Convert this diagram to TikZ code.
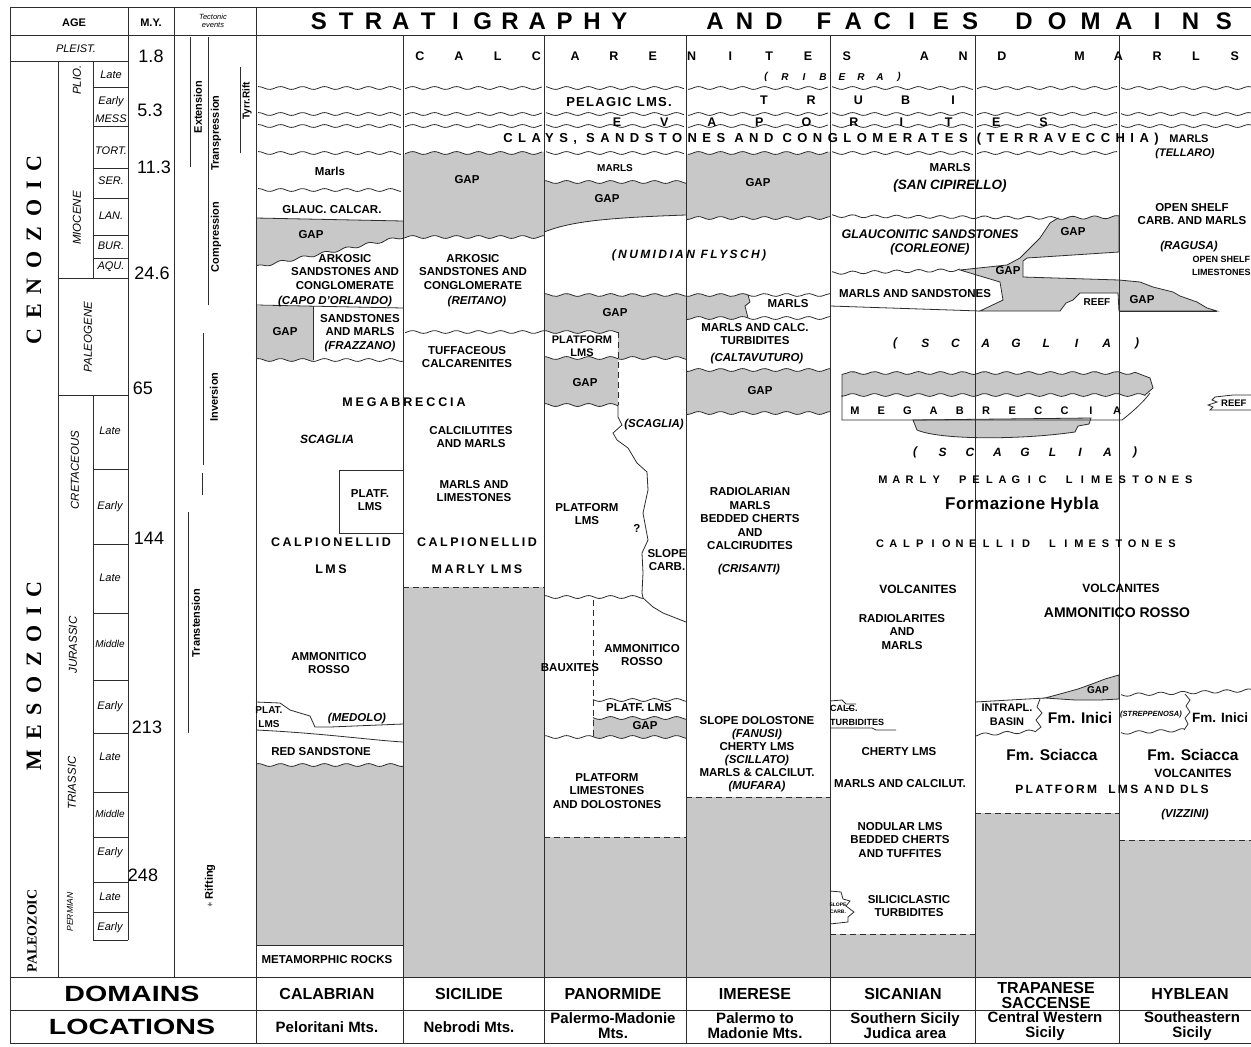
\documentclass[tikz,border=0pt]{standalone}
\usepackage{fontspec}
\usepackage{graphicx}
\setmainfont{Liberation Sans}
\newfontfamily\erafont{Liberation Serif}
\definecolor{gapc}{RGB}{200,200,200}
\definecolor{inkc}{RGB}{45,45,45}
\newcommand\spaced[5]{\foreach \spc [count=\spi from 0] in {#5} {\node[#4] at ({#1+\spi*#3},#2) {\spc};}}
\tikzset{
  wvs/.style n args={4}{insert path={plot[domain=#1:#3,samples=70,smooth,variable=\wx] (\wx,{#2+(#4-#2)*(\wx-#1)/(#3-#1)+1.4*sin(mod(\wx,22)*16.3636)})}},
  wv/.style n args={4}{insert path={-- plot[domain=#1:#3,samples=70,smooth,variable=\wx] (\wx,{#2+(#4-#2)*(\wx-#1)/(#3-#1)+1.4*sin(mod(\wx,22)*16.3636)})}},
  frame/.style={draw=inkc, line width=0.9pt},
  ln/.style={draw=inkc, line width=0.8pt},
  dln/.style={draw=inkc, line width=0.9pt, dash pattern=on 6pt off 4pt},
  lab/.style={font=\bfseries\fontsize{11.5}{13.5}\selectfont, align=center, inner sep=0pt},
  labi/.style={font=\bfseries\itshape\fontsize{11.5}{13.5}\selectfont, align=center, inner sep=0pt},
  labs/.style={font=\bfseries\fontsize{9.5}{11}\selectfont, align=center, inner sep=0pt},
  labm/.style={font=\bfseries\fontsize{11}{12}\selectfont, inner sep=0pt},
  bigl/.style={font=\bfseries\fontsize{12.5}{14}\selectfont, inner sep=0pt},
  bigi/.style={font=\bfseries\itshape\fontsize{12}{14}\selectfont, inner sep=0pt},
  smi/.style={font=\bfseries\itshape\fontsize{10}{12}\selectfont, inner sep=0pt},
  lsp/.style={font=\bfseries\fontsize{12.5}{14}\selectfont\addfontfeatures{LetterSpace=20}, inner sep=0pt},
  ttl/.style={font=\bfseries\fontsize{24}{26}\selectfont, inner sep=0pt},
  ep/.style={font=\itshape\fontsize{11}{12}\selectfont, inner sep=0pt, text height=7.5pt, text depth=2.5pt},
  per/.style={font=\itshape\fontsize{11.5}{12}\selectfont, inner sep=0pt, rotate=90},
  tec/.style={font=\bfseries\fontsize{11}{12}\selectfont, inner sep=0pt, rotate=90},
  myr/.style={font=\fontsize{18}{18}\selectfont, inner sep=0pt},
  dom/.style={font=\bfseries\fontsize{16}{15}\selectfont, align=center, inner sep=0pt},
  loc/.style={font=\bfseries\fontsize{15}{15}\selectfont, align=center, inner sep=0pt},
  fm/.style={font=\bfseries\fontsize{15.5}{16}\selectfont, inner sep=0pt},
}
\begin{document}
\begin{tikzpicture}[x=1pt,y=-1pt]
\useasboundingbox (0,0) rectangle (1251,1047);
\fill[white] (0,0) rectangle (1251,1047);

% ================= GRAY FILLS =================
% Calabrian
\fill[gapc] (256,218) -- (403,221) [wv={403}{237}{256}{267}] -- cycle;
\fill[gapc] (256,306) -- (313,306) -- (313,360) [wv={313}{360}{256}{360}] -- cycle;
\fill[gapc] [wvs={256}{765}{403}{765}] -- (403,945) -- (256,945) -- cycle;
% Sicilide
\fill[gapc] [wvs={403}{153}{544}{153}] [wv={544}{237}{403}{237}] -- cycle;
\fill[gapc] (403,587) rectangle (544,977);
% Panormide
\fill[gapc] [wvs={544}{182}{686}{182}] -- (686,215) .. controls (600,218) and (570,222) .. (544,232) -- cycle;
\fill[gapc] [wvs={544}{295}{686}{295}] [wv={686}{358}{618}{358}] -- (618,332) [wv={618}{332}{544}{332}] -- cycle;
\fill[gapc] [wvs={544}{358}{618}{358}] [wv={618}{405}{544}{405}] -- cycle;
\fill[gapc] [wvs={593}{718}{686}{718}] [wv={686}{737}{593}{737}] -- cycle;
\fill[gapc] (544,837) rectangle (686,977);
% Imerese
\fill[gapc] [wvs={686}{153}{830}{153}] [wv={830}{218}{686}{218}] -- cycle;
\fill[gapc] [wvs={686}{295}{748}{295}] -- (750,302) -- (745,306) -- (748,318) [wv={748}{318}{686}{318}] -- cycle;
\fill[gapc] [wvs={686}{370}{830}{370}] [wv={830}{413}{686}{413}] -- cycle;
\fill[gapc] (686,797) rectangle (830,977);
% Sicanian / Trapanese / Hyblean Tertiary gap
\path[fill=gapc, ln] (960,270) -- (1007,265) -- (1020,258) -- (1030,248) -- (1040,238) -- (1050,223) -- (1058,218) [wv={1058}{218}{1119}{217}] -- (1119,252) -- (1027,258) -- (1023,261) -- (1023,277) -- (1119,280) -- (1140,282) -- (1153,287) -- (1173,292) -- (1180,296) -- (1197,302) -- (1207,308) -- (1217,311) -- (1119,311) -- (1118,293) -- (1080,293) -- (1073,300) -- (1066,303) -- (1060,311) -- (980,311) -- (1003,300) -- (1000,282) -- cycle;
% megabreccia band
\path[fill=gapc, ln] (842,395) [wv={842}{373}{1135}{373}] -- (1150,378) -- (1153,388) -- (1145,395) [wv={1145}{395}{842}{395}] -- cycle;
\path[fill=gapc, ln] (913,420) -- (1091,418) -- (1089,424) -- (1078,426) -- (1075,432) .. controls (1020,440) and (940,440) .. (917,430) -- cycle;
% Trapanese small gap
\path[fill=gapc, ln] (1045,698) -- (1060,694) -- (1078,689) -- (1092,684) -- (1105,679) -- (1119,675) -- (1119,699) -- (1100,700) -- (1075,700) -- cycle;
\fill[gapc] (830,934) rectangle (975,977);
\fill[gapc] (975,813) rectangle (1119,977);
\fill[gapc] (1119,840) rectangle (1260,977);

% ================= STRATA LINES =================
\foreach \a/\b in {258/401, 405/542, 546/684, 688/828, 832/973, 977/1117, 1121/1260} {
  \draw[ln] [wvs={\a}{88}{\b}{88}];
  \draw[ln] [wvs={\a}{114}{\b}{114}];
  \draw[ln] [wvs={\a}{126}{\b}{126}];
}
\foreach \a/\b in {258/401, 405/542, 546/684, 688/828, 832/973, 977/1117} {
  \draw[ln] [wvs={\a}{153}{\b}{153}];
}
% Calabrian
\draw[ln] [wvs={258}{190}{401}{190}];
\draw[ln] (256,218) -- (403,221);
\draw[ln] [wvs={256}{267}{403}{237}];
\draw[ln] (256,305) -- (403,308);
\draw[ln] (313,306) -- (313,360);
\draw[ln] [wvs={256}{360}{403}{360}];
\draw[ln] (403,470) -- (339,470) -- (339,533) -- (403,533);
\draw[ln] (256,702) -- (280,703) -- (290,710) -- (310,716) -- (315,727) -- (330,727) -- (403,724);
\draw[ln] (256,730) .. controls (320,733) and (370,740) .. (403,742);
\draw[ln] [wvs={256}{765}{403}{765}];
\draw[ln] (256,945) -- (403,945);
% Sicilide
\draw[ln] [wvs={403}{237}{544}{237}];
\draw[ln] [wvs={405}{332}{618}{332}];
\draw[dln] (403,587) -- (544,587);
% Panormide
\draw[ln] [wvs={544}{182}{686}{182}];
\draw[ln] (544,232) .. controls (570,222) and (600,218) .. (686,215);
\draw[ln] [wvs={544}{295}{830}{295}];
\draw[ln] [wvs={544}{358}{686}{358}];
\draw[ln] [wvs={544}{405}{618}{405}];
\draw[dln] (618,332) -- (618,405);
\draw[ln] (618,405) -- (618,417) -- (622,425) -- (613,433) -- (617,440) -- (628,448) -- (637,463) -- (647,472) -- (648,490) -- (643,513) -- (648,540) -- (642,553) -- (643,573) -- (642,593) -- (643,598);
\draw[ln] [wvs={544}{597}{643}{597}];
\draw[ln] (643,598) -- (653,607) -- (663,613) -- (686,622);
\draw[dln] (593,600) -- (593,737);
\draw[ln] [wvs={593}{700}{686}{700}];
\draw[ln] [wvs={593}{718}{686}{718}];
\draw[ln] [wvs={544}{737}{686}{737}];
\draw[dln] (544,837) -- (686,837);
% Imerese
\draw[ln] [wvs={686}{218}{830}{218}];
\draw[ln] (748,295) -- (750,302) -- (745,306) -- (748,318);
\draw[ln] [wvs={686}{318}{830}{318}];
\draw[ln] [wvs={686}{370}{830}{370}];
\draw[ln] [wvs={686}{413}{830}{413}];
\draw[dln] (686,797) -- (830,797);
% Sicanian / Trapanese
\draw[ln] [wvs={832}{216}{1058}{218}];
\draw[ln] [wvs={832}{273}{960}{270}];
\draw[ln] (830,306) -- (980,311);
\draw[ln] (1217,311) -- (1119,311);
\draw[ln] (842,395) -- (842,420) -- (1122,420) .. controls (1135,410) and (1145,400) .. (1150,393);
\draw[ln] (830,701) -- (842,700) -- (846,704) -- (856,704);
\draw[ln] (846,708) -- (854,708);
\draw[ln] (830,728) -- (872,728) -- (876,730) -- (896,730);
\draw[ln] (830,891) -- (841,892) -- (843,899) -- (850,901) -- (846,906) -- (854,912) -- (848,917) -- (848,922) -- (830,924);
\draw[dln] (830,934) -- (975,934);
\draw[ln] (975,702) -- (1045,698);
\draw[ln] (1040,699) -- (1037,707) -- (1042,713) -- (1036,720) -- (1041,727) -- (1036,731);
\draw[ln] [wvs={975}{735}{1036}{731}];
\draw[dln] (975,813) -- (1119,813);
% Hyblean
\draw[ln] [wvs={1121}{695}{1260}{690}];
\draw[ln] (1185,694) -- (1190,700) -- (1186,706) -- (1190,712) -- (1185,718) -- (1188,724) -- (1184,730);
\draw[ln] [wvs={1121}{733}{1184}{730}];
\draw[dln] (1119,840) -- (1260,840);
\draw[ln] (1260,395) -- (1233,395) -- (1215,397) -- (1212,400) -- (1217,402) -- (1208,405) -- (1213,407) -- (1210,410) -- (1260,410);

% ================= FRAME =================
\draw[frame] (10,7) -- (1260,7);
\draw[frame] (10,7) -- (10,1043) -- (1260,1043);
\draw[frame] (10,35) -- (1260,35);
\draw[frame] (10,977) -- (1260,977);
\draw[frame] (10,1010) -- (1260,1010);
\draw[frame] (10,61) -- (128,61);
\draw[frame] (58,61) -- (58,977);
\draw[frame] (93,61) -- (93,278);
\draw[frame] (58,278) -- (128,278);
\draw[frame] (58,395) -- (128,395);
\draw[frame] (93,395) -- (93,940);
\draw[frame] (128,7) -- (128,940);
\draw[frame] (93,940) -- (128,940);
\foreach \yy in {87,126,168,198,235,258,469,544,613,680,733,792,837,882,912} {\draw[frame] (93,\yy) -- (128,\yy);}
\draw[frame] (174,7) -- (174,977);
\draw[frame] (256,7) -- (256,1043);
\foreach \xx in {403,544,686,830,975,1119} {\draw[frame] (\xx,35) -- (\xx,1043);}
% tectonic bars
\draw[ln] (190,37) -- (190,167);
\draw[ln] (208,37) -- (208,305);
\draw[ln] (240,67) -- (240,153);
\draw[ln] (203,333) -- (203,465);
\draw[ln] (202,473) -- (202,495);
\draw[ln] (188,512) -- (188,733);

% ================= LEFT TEXT =================
\node[font=\bfseries\fontsize{11}{12}\selectfont] (hage) at (74,23) {AGE};
\node[font=\bfseries\fontsize{11}{12}\selectfont] (hmy) at (151,23) {M.Y.};
\node[font=\itshape\fontsize{7.5}{8.5}\selectfont, align=center, inner sep=0pt] (htec) at (213,21) {Tectonic\\events};
\node[font=\itshape\fontsize{11}{12}\selectfont] at (76,49) {PLEIST.};
\node[rotate=90, font=\erafont\bfseries\fontsize{22}{22}\selectfont\addfontfeatures{LetterSpace=45}, inner sep=0pt] at (34,250) {CENOZOIC};
\node[rotate=90, font=\erafont\bfseries\fontsize{22}{22}\selectfont\addfontfeatures{LetterSpace=44}, inner sep=0pt] at (34,676) {MESOZOIC};
\node[rotate=90, font=\erafont\bfseries\fontsize{14}{14}\selectfont, inner sep=0pt] at (32,931) {PALEOZOIC};
\node[per] at (77,80) {PLIO.};
\node[per] at (77,218) {MIOCENE};
\node[per] at (88,337) {PALEOGENE};
\node[per] at (75,470) {CRETACEOUS};
\node[per] at (73,645) {JURASSIC};
\node[per] at (72,783) {TRIASSIC};
\node[per, font=\itshape\fontsize{8.5}{9}\selectfont] at (70,912) {PERMIAN};
\node[ep] at (111,76) {Late};
\node[ep] at (111,102) {Early};
\node[ep] at (111,120) {MESS};
\node[ep] at (111,152) {TORT.};
\node[ep] at (111,182) {SER.};
\node[ep] at (111,217) {LAN.};
\node[ep] at (111,247) {BUR.};
\node[ep] at (111,267) {AQU.};
\node[ep] at (110,432) {Late};
\node[ep] at (110,507) {Early};
\node[ep] at (110,579) {Late};
\node[ep, font=\itshape\fontsize{10}{11}\selectfont] at (110,645) {Middle};
\node[ep] at (110,707) {Early};
\node[ep] at (110,758) {Late};
\node[ep, font=\itshape\fontsize{10}{11}\selectfont] at (110,815) {Middle};
\node[ep] at (110,853) {Early};
\node[ep] at (110,898) {Late};
\node[ep] at (110,928) {Early};
\node[myr] at (151,56) {1.8};
\node[myr] at (150,110) {5.3};
\node[myr] at (154,167) {11.3};
\node[myr] at (152,273) {24.6};
\node[myr] at (143,388) {65};
\node[myr] at (149,538) {144};
\node[myr] at (147,727) {213};
\node[myr] at (143,875) {248};
\node[tec] at (198,107) {Extension};
\node[tec] at (216,133) {Transpression};
\node[tec, font=\bfseries\fontsize{10}{11}\selectfont] at (247,101) {Tyrr.Rift};
\node[tec] at (216,237) {Compression};
\node[tec] at (214,397) {Inversion};
\node[tec] at (196,623) {Transtension};
\node[tec] at (210,886) {$\ast$ Rifting};
\node[font=\bfseries\fontsize{22}{22}\selectfont, inner sep=0pt] at (132,994) {\scalebox{1.3}[1]{DOMAINS}};
\node[font=\bfseries\fontsize{22}{22}\selectfont, inner sep=0pt] at (132,1027) {\scalebox{1.3}[1]{LOCATIONS}};

% ================= TITLE AND TOP ROWS =================
\spaced{319}{21}{27.3}{ttl}{S,T,R,A,T,I,G,R,A,P,H,Y}
\spaced{715}{21}{29.5}{ttl}{A,N,D}
\spaced{824}{21}{29.2}{ttl}{F,A,C,I,E,S}
\spaced{1024}{21}{33.3}{ttl}{D,O,M,A,I,N,S}
\spaced{420}{56}{38.8}{bigl}{C,A,L,C,A,R,E,N,I,T,E,S,,A,N,D,,M,A,R,L,S}
\spaced{766}{77}{19}{smi}{{(},R,I,B,E,R,A,{)}}
\spaced{764}{100}{47.25}{bigl}{T,R,U,B,I}
\spaced{617}{122}{47.4}{bigl}{E,V,A,P,O,R,I,T,E,S}
\node[font=\bfseries\fontsize{13}{14}\selectfont\addfontfeatures{LetterSpace=42}, inner sep=0pt] at (831,139) {CLAYS, SANDSTONES AND CONGLOMERATES (TERRAVECCHIA)};
\node[font=\bfseries\fontsize{13}{14}\selectfont\addfontfeatures{LetterSpace=10}, inner sep=0pt] at (619,102) {PELAGIC LMS.};

% ================= CALABRIAN =================
\node[lab] at (330,171) {Marls};
\node[lab] at (332,210) {GLAUC. CALCAR.};
\node[lab] at (311,235) {GAP};
\node[lab] at (345,272) {ARKOSIC\\SANDSTONES AND\\CONGLOMERATE};
\node[labi] at (335,302) {(CAPO D'ORLANDO)};
\node[lab] at (285,332) {GAP};
\node[lab] at (360,325) {SANDSTONES\\AND MARLS};
\node[labi] at (360,347) {(FRAZZANO)};
\node[font=\bfseries\fontsize{12.5}{14}\selectfont\addfontfeatures{LetterSpace=23}, inner sep=0pt] at (404,402) {MEGABRECCIA};
\node[labi, font=\bfseries\itshape\fontsize{12}{14}\selectfont] at (327,439) {SCAGLIA};
\node[lab] at (370,500) {PLATF.\\LMS};
\node[lsp] at (331,542) {CALPIONELLID};
\node[lsp] at (331,569) {LMS};
\node[lab] at (329,663) {AMMONITICO\\ROSSO};
\node[lab, font=\bfseries\fontsize{10}{14}\selectfont] at (269,717) {PLAT.\\LMS};
\node[labi] at (357,719) {(MEDOLO)};
\node[lab] at (321,752) {RED SANDSTONE};
\node[lab] at (327,960) {METAMORPHIC ROCKS};

% ================= SICILIDE =================
\node[lab] at (467,180) {GAP};
\node[lab] at (473,272) {ARKOSIC\\SANDSTONES AND\\CONGLOMERATE};
\node[labi] at (477,302) {(REITANO)};
\node[lab] at (467,357) {TUFFACEOUS\\CALCARENITES};
\node[lab] at (471,437) {CALCILUTITES\\AND MARLS};
\node[lab] at (474,491) {MARLS AND\\LIMESTONES};
\node[lsp] at (477,542) {CALPIONELLID};
\node[lsp] at (477,569) {MARLY LMS};

% ================= PANORMIDE =================
\node[lab, font=\bfseries\fontsize{10}{12}\selectfont] at (615,168) {MARLS};
\node[lab] at (607,199) {GAP};
\node[font=\bfseries\itshape\fontsize{12}{14}\selectfont\addfontfeatures{LetterSpace=20}, inner sep=0pt] at (689,255) {(NUMIDIAN FLYSCH)};
\node[lab] at (615,313) {GAP};
\node[lab, font=\bfseries\fontsize{11}{13.5}\selectfont] at (582,346) {PLATFORM\\LMS};
\node[lab] at (585,383) {GAP};
\node[labi] at (654,425) {(SCAGLIA)};
\node[lab] at (587,514) {PLATFORM\\LMS};
\node[lab] at (637,528) {?};
\node[lab] at (667,560) {SLOPE\\CARB.};
\node[lab] at (570,668) {BAUXITES};
\node[lab] at (642,655) {AMMONITICO\\ROSSO};
\node[lab] at (639,708) {PLATF. LMS};
\node[lab] at (645,726) {GAP};
\node[lab] at (607,791) {PLATFORM\\LIMESTONES\\AND DOLOSTONES};

% ================= IMERESE =================
\node[lab] at (758,183) {GAP};
\node[lab] at (788,304) {MARLS};
\node[lab] at (755,334) {MARLS AND CALC.\\TURBIDITES};
\node[labi] at (757,359) {(CALTAVUTURO)};
\node[lab] at (760,391) {GAP};
\node[lab] at (750,519) {RADIOLARIAN\\MARLS\\BEDDED CHERTS\\AND\\CALCIRUDITES};
\node[labi] at (749,570) {(CRISANTI)};
\node[lab, font=\bfseries\fontsize{11.5}{13}\selectfont] at (757,754) {SLOPE DOLOSTONE\\\textit{(FANUSI)}\\CHERTY LMS\\\textit{(SCILLATO)}\\MARLS \& CALCILUT.\\\textit{(MUFARA)}};

% ================= SICANIAN / TRAPANESE / HYBLEAN =================
\node[lab] at (950,168) {MARLS};
\node[labi, font=\bfseries\itshape\fontsize{13.5}{15}\selectfont] at (950,186) {(SAN CIPIRELLO)};
\node[labi, font=\bfseries\itshape\fontsize{12.5}{14}\selectfont] at (930,242) {GLAUCONITIC SANDSTONES\\(CORLEONE)};
\node[lab] at (915,294) {MARLS AND SANDSTONES};
\node[lab] at (1073,232) {GAP};
\node[lab] at (1008,271) {GAP};
\node[lab, font=\bfseries\fontsize{10}{12}\selectfont] at (1097,302) {REEF};
\node[lab] at (1142,300) {GAP};
\node[lab, font=\bfseries\fontsize{11}{12}\selectfont] at (1189,139) {MARLS};
\node[labi, font=\bfseries\itshape\fontsize{11}{12}\selectfont] at (1185,154) {(TELLARO)};
\node[lab] at (1192,214) {OPEN SHELF\\CARB. AND MARLS};
\node[labi] at (1189,247) {(RAGUSA)};
\node[labs, anchor=west, font=\bfseries\fontsize{9}{13}\selectfont] at (1192,266) {OPEN SHELF\\LIMESTONES};
\spaced{895}{343}{30.25}{bigi}{{(},S,C,A,G,L,I,A,{)}}
\spaced{855}{411}{26.2}{labm}{M,E,G,A,B,R,E,C,C,I,A}
\node[lab, anchor=west, font=\bfseries\fontsize{9.5}{11}\selectfont] at (1221,403) {REEF};
\spaced{915}{452}{27.5}{bigi}{{(},S,C,A,G,L,I,A,{)}}
\spaced{883}{480}{13.3}{labm}{M,A,R,L,Y,,P,E,L,A,G,I,C,,L,I,M,E,S,T,O,N,E,S}
\node[font=\bfseries\fontsize{17}{18}\selectfont\addfontfeatures{LetterSpace=3}, inner sep=0pt] at (1022,505) {Formazione Hybla};
\spaced{880}{544}{13.27}{labm}{C,A,L,P,I,O,N,E,L,L,I,D,,L,I,M,E,S,T,O,N,E,S}
\node[lab, font=\bfseries\fontsize{12}{13}\selectfont] at (918,589) {VOLCANITES};
\node[lab] at (902,632) {RADIOLARITES\\AND\\MARLS};
\node[lab, font=\bfseries\fontsize{12}{13}\selectfont] at (1121,588) {VOLCANITES};
\node[lab, font=\bfseries\fontsize{14}{15}\selectfont] at (1117,613) {AMMONITICO ROSSO};
\node[labs, font=\bfseries\fontsize{9}{14}\selectfont, anchor=west, align=left] at (830,715) {CALC.\\TURBIDITES};
\node[lab] at (899,752) {CHERTY LMS};
\node[lab] at (900,784) {MARLS AND CALCILUT.};
\node[lab] at (900,840) {NODULAR LMS\\BEDDED CHERTS\\AND TUFFITES};
\node[lab] at (909,906) {SILICICLASTIC\\TURBIDITES};
\node[font=\bfseries\fontsize{5}{7}\selectfont, align=center, inner sep=0pt] at (838,908) {SLOPE\\CARB.};
\node[lab, font=\bfseries\fontsize{11}{13.5}\selectfont] at (1007,715) {INTRAPL.\\BASIN};
\node[lab, font=\bfseries\fontsize{10}{12}\selectfont] at (1098,690) {GAP};
\node[fm] at (1080,718) {Fm. Inici};
\node[fm] at (1052,755) {Fm. Sciacca};
\node[font=\bfseries\itshape\fontsize{7.5}{8}\selectfont, inner sep=0pt] at (1151,715) {(STREPPENOSA)};
\node[fm, anchor=west, font=\bfseries\fontsize{13.5}{14}\selectfont] at (1192,718) {Fm. Inici};
\node[fm] at (1193,755) {Fm. Sciacca};
\node[lab, font=\bfseries\fontsize{12}{13}\selectfont] at (1193,773) {VOLCANITES};
\node[font=\bfseries\fontsize{12}{13}\selectfont\addfontfeatures{LetterSpace=19}, inner sep=0pt] at (1112,789) {PLATFORM \ LMS AND DLS};
\node[labi] at (1185,815) {(VIZZINI)};

% ================= DOMAINS / LOCATIONS =================
\node[dom] at (327,994) {CALABRIAN};
\node[dom] at (469,994) {SICILIDE};
\node[dom] at (613,994) {PANORMIDE};
\node[dom] at (755,994) {IMERESE};
\node[dom] at (903,994) {SICANIAN};
\node[dom] at (1046,995) {TRAPANESE\\SACCENSE};
\node[dom] at (1190,994) {HYBLEAN};
\node[loc] at (327,1027) {Peloritani Mts.};
\node[loc] at (469,1027) {Nebrodi Mts.};
\node[loc] at (613,1026) {Palermo-Madonie\\Mts.};
\node[loc] at (755,1026) {Palermo to\\Madonie Mts.};
\node[loc] at (905,1026) {Southern Sicily\\Judica area};
\node[loc] at (1045,1026) {Central Western\\Sicily};
\node[loc] at (1192,1026) {Southeastern\\Sicily};
\end{tikzpicture}
\end{document}
